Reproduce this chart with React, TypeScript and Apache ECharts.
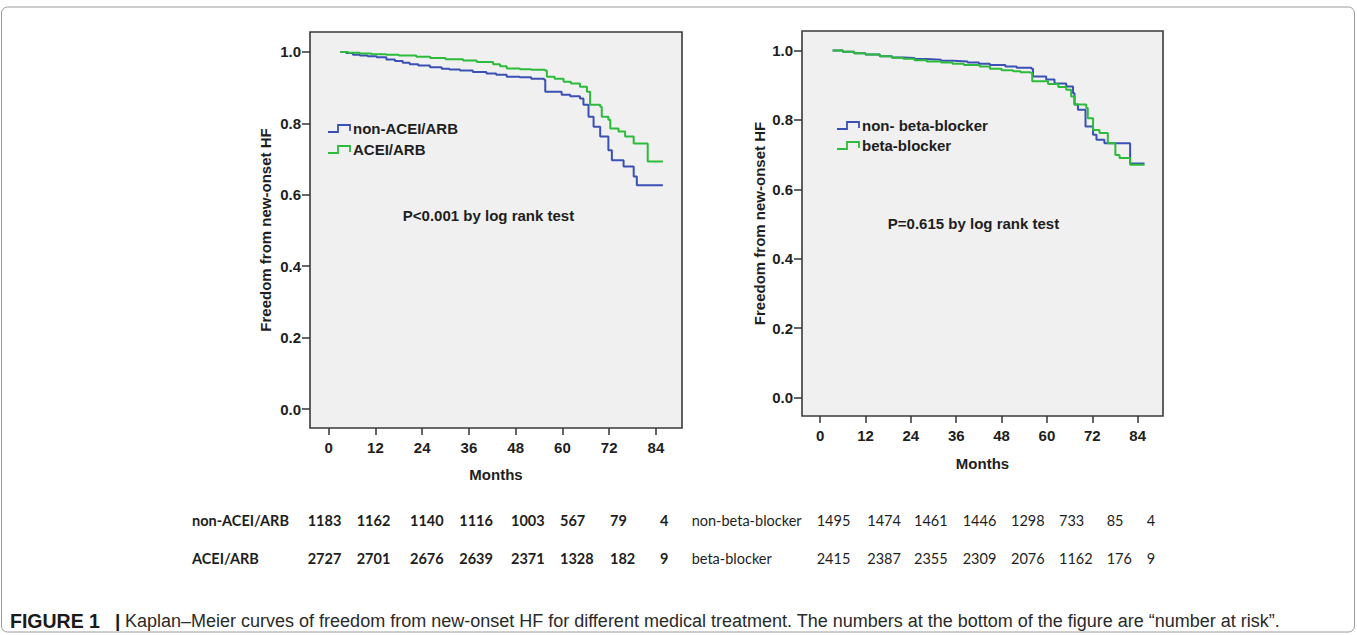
import React, { useEffect, useRef } from "react";
import * as echarts from "echarts";

// ---------- data ----------
const monthTicks = [0, 12, 24, 36, 48, 60, 72, 84];
const survTicks = [0, 0.2, 0.4, 0.6, 0.8, 1.0];

// Left panel: [month, survival]
const nonAceiCurve: [number, number][] = [
  [3, 1.0], [4.5, 0.997], [6.2, 0.992], [8, 0.99], [10, 0.988], [12.3, 0.985], [14.8, 0.979],
  [17, 0.975], [19, 0.97], [20.8, 0.966], [23, 0.962], [26, 0.957], [29, 0.953], [31, 0.951],
  [33.7, 0.948], [37, 0.944], [40.5, 0.94], [43, 0.936], [45.7, 0.931], [49, 0.929], [52, 0.925],
  [55.3, 0.922], [55.6, 0.889], [59.8, 0.88], [62, 0.876], [64.5, 0.87], [65.4, 0.852],
  [66.7, 0.819], [68, 0.791], [69.7, 0.763], [71.8, 0.725], [72.7, 0.697], [75.7, 0.679],
  [78.3, 0.651], [79.1, 0.627], [85.8, 0.627],
];
const aceiCurve: [number, number][] = [
  [3, 1.0], [5, 0.998], [8, 0.996], [11, 0.994], [14.8, 0.992], [18, 0.99], [22.5, 0.987],
  [26, 0.983], [30, 0.98], [34.5, 0.976], [38, 0.972], [42.2, 0.966], [44, 0.96], [45.7, 0.954],
  [49.1, 0.952], [52, 0.95], [55.5, 0.948], [56, 0.931], [58, 0.925], [60.3, 0.917],
  [62.2, 0.912], [64.5, 0.903], [66.3, 0.889], [67.1, 0.852], [69.7, 0.847], [70.1, 0.819],
  [71.8, 0.81], [72.3, 0.786], [74.4, 0.777], [76.1, 0.763], [78.3, 0.744], [81.9, 0.693],
  [85.8, 0.693],
];

// Right panel
const nonBetaCurve: [number, number][] = [
  [3.3, 1.0], [6, 0.996], [9, 0.992], [12, 0.988], [15.8, 0.983], [19, 0.98], [22, 0.978],
  [25, 0.975], [28.2, 0.973], [32, 0.97], [35.2, 0.968], [39, 0.965], [42, 0.962], [44.9, 0.958],
  [49, 0.954], [52, 0.95], [55.9, 0.947], [56.3, 0.925], [59.8, 0.916], [62, 0.905],
  [65.1, 0.896], [66.9, 0.877], [67.3, 0.844], [68.2, 0.829], [70.2, 0.781], [72.2, 0.757],
  [73.1, 0.743], [75.2, 0.733], [82, 0.674], [85.8, 0.674],
];
const betaCurve: [number, number][] = [
  [3.3, 1.0], [6, 0.996], [9, 0.992], [12, 0.988], [15.8, 0.983], [19, 0.979], [22, 0.976],
  [25, 0.972], [28.2, 0.968], [32, 0.965], [35, 0.962], [38, 0.958], [42.2, 0.954], [44.9, 0.947],
  [48, 0.943], [51, 0.94], [53, 0.937], [55.4, 0.935], [56.1, 0.911], [60.3, 0.903], [63, 0.895],
  [65.1, 0.887], [66.4, 0.867], [67.3, 0.844], [70.4, 0.834], [70.8, 0.805], [72.2, 0.771],
  [73.9, 0.762], [76.1, 0.733], [78.1, 0.699], [79.2, 0.69], [82, 0.671], [85.8, 0.671],
];

// Number at risk
const leftRiskGroups = ["non-ACEI/ARB", "ACEI/ARB"];
const nonAceiAtRisk = [1183, 1162, 1140, 1116, 1003, 567, 79, 4];
const aceiAtRisk = [2727, 2701, 2676, 2639, 2371, 1328, 182, 9];
const rightRiskGroups = ["non-beta-blocker", "beta-blocker"];
const nonBetaAtRisk = [1495, 1474, 1461, 1446, 1298, 733, 85, 4];
const betaAtRisk = [2415, 2387, 2355, 2309, 2076, 1162, 176, 9];

const leftLegend = ["non-ACEI/ARB", "ACEI/ARB"];
const rightLegend = ["non- beta-blocker", "beta-blocker"];
const leftPText = "P<0.001 by log rank test";
const rightPText = "P=0.615 by log rank test";
const yTitle = "Freedom from new-onset HF";
const xTitle = "Months";
const captionLabel = "FIGURE 1";
const captionBar = "|";
const captionText =
  "Kaplan\u2013Meier curves of freedom from new-onset HF for different medical treatment. The numbers at the bottom of the figure are \u201cnumber at risk\u201d.";

// ---------- styling ----------
const BLUE = "#3b50b5";
const GREEN = "#2cbb3a";
const SPSS_FONT = "Liberation Sans, Arial, sans-serif";
const TABLE_FONT = "Lato, Carlito, sans-serif";
const TXT = "#1e1e1e";

const leftRiskCols = [307.7, 356.7, 410, 459.3, 511, 560, 610, 660];
const rightRiskCols = [816.7, 867.3, 914, 962.7, 1011, 1059, 1106.7, 1146.7];

function xAxisFor(gi: number, nameGap: number) {
  return {
    type: "value",
    gridIndex: gi,
    min: -4.8,
    max: 90.7,
    name: xTitle,
    nameLocation: "middle",
    nameGap,
    nameTextStyle: { fontFamily: SPSS_FONT, fontWeight: "bold", fontSize: 15, color: TXT },
    axisLine: { show: false, onZero: false },
    axisTick: { show: true, length: 7, customValues: monthTicks, lineStyle: { color: "#333", width: 1.5 } },
    axisLabel: {
      customValues: monthTicks,
      margin: 12,
      fontFamily: SPSS_FONT,
      fontWeight: "bold",
      fontSize: 15,
      color: TXT,
    },
    splitLine: { show: false },
  };
}

function yAxisFor(gi: number, nameGap: number) {
  return {
    type: "value",
    gridIndex: gi,
    min: -0.053,
    max: 1.056,
    name: yTitle,
    nameLocation: "middle",
    nameRotate: 90,
    nameGap,
    nameTextStyle: { fontFamily: SPSS_FONT, fontWeight: "bold", fontSize: 15, color: TXT },
    axisLine: { show: false, onZero: false },
    axisTick: { show: true, length: 8, customValues: survTicks, lineStyle: { color: "#333", width: 1.5 } },
    axisLabel: {
      customValues: survTicks,
      margin: 9,
      fontFamily: SPSS_FONT,
      fontWeight: "bold",
      fontSize: 15,
      color: TXT,
      formatter: (v: number) => v.toFixed(1),
    },
    splitLine: { show: false },
  };
}

function kmSeries(name: string, data: [number, number][], color: string, gi: number) {
  return {
    name,
    type: "line",
    xAxisIndex: gi,
    yAxisIndex: gi,
    step: "end",
    showSymbol: false,
    symbol: "none",
    data,
    lineStyle: { color, width: 2 },
    itemStyle: { color },
    emphasis: { disabled: true },
  };
}

function legendItem(x: number, y: number, color: string, label: string) {
  return {
    type: "group",
    x,
    y,
    children: [
      {
        type: "polyline",
        shape: { points: [[0, 5], [10, 5], [10, -2], [22, -2], [22, 4]] },
        style: { stroke: color, lineWidth: 1.8, fill: "none" },
      },
      {
        type: "text",
        x: 25,
        y: 1,
        style: {
          text: label,
          fill: TXT,
          font: `bold 15px ${SPSS_FONT}`,
          textVerticalAlign: "middle",
        },
      },
    ],
  };
}

function riskRows(
  groups: string[],
  rows: number[][],
  labelX: number,
  cols: number[],
  ys: number[],
  weight: string
) {
  const els: any[] = [];
  rows.forEach((row, ri) => {
    els.push({
      type: "text",
      x: labelX,
      y: ys[ri],
      style: { text: groups[ri], fill: TXT, font: `${weight} 14.5px ${TABLE_FONT}`, textVerticalAlign: "middle" },
    });
    row.forEach((v, ci) => {
      els.push({
        type: "text",
        x: cols[ci],
        y: ys[ri],
        style: { text: String(v), fill: TXT, font: `${weight} 14.5px ${TABLE_FONT}`, textVerticalAlign: "middle" },
      });
    });
  });
  return els;
}

export default function App() {
  const ref = useRef<HTMLDivElement>(null);
  useEffect(() => {
    if (!ref.current) return;
    const chart = echarts.init(ref.current, undefined, { renderer: "svg" });
    const option: any = {
      animation: false,
      backgroundColor: "#ffffff",
      grid: [
        {
          left: 310, top: 32, width: 372, height: 396,
          show: true, backgroundColor: "#f0f0f0", borderColor: "#3a3a3a", borderWidth: 1.6,
        },
        {
          left: 802, top: 31, width: 361, height: 385,
          show: true, backgroundColor: "#f0f0f0", borderColor: "#3a3a3a", borderWidth: 1.6,
        },
      ],
      xAxis: [xAxisFor(0, 39), xAxisFor(1, 40)],
      yAxis: [yAxisFor(0, 37), yAxisFor(1, 35)],
      series: [
        kmSeries(leftLegend[0], nonAceiCurve, BLUE, 0),
        kmSeries(leftLegend[1], aceiCurve, GREEN, 0),
        kmSeries(rightLegend[0], nonBetaCurve, BLUE, 1),
        kmSeries(rightLegend[1], betaCurve, GREEN, 1),
      ],
      graphic: [
        {
          type: "rect",
          shape: { x: 1.5, y: 7, width: 1353, height: 625, r: 6 },
          style: { fill: "none", stroke: "#9a9a9a", lineWidth: 1 },
          silent: true,
        },
        legendItem(328, 127, BLUE, leftLegend[0]),
        legendItem(328, 148, GREEN, leftLegend[1]),
        legendItem(837, 124, BLUE, rightLegend[0]),
        legendItem(837, 144, GREEN, rightLegend[1]),
        {
          type: "text",
          x: 488.5,
          y: 215,
          style: { text: leftPText, fill: TXT, font: `bold 15px ${SPSS_FONT}`, textAlign: "center", textVerticalAlign: "middle" },
        },
        {
          type: "text",
          x: 973.5,
          y: 223,
          style: { text: rightPText, fill: TXT, font: `bold 15px ${SPSS_FONT}`, textAlign: "center", textVerticalAlign: "middle" },
        },
        ...riskRows(leftRiskGroups, [nonAceiAtRisk, aceiAtRisk], 192, leftRiskCols, [520, 558], "bold"),
        ...riskRows(rightRiskGroups, [nonBetaAtRisk, betaAtRisk], 691.7, rightRiskCols, [520, 558], "normal"),
        {
          type: "text",
          x: 10,
          y: 621,
          style: {
            text: captionLabel,
            font: `bold 19.5px ${SPSS_FONT}`,
            fill: "#1a1a1a",
            textVerticalAlign: "middle",
          },
        },
        {
          type: "text",
          x: 115,
          y: 620,
          style: {
            text: captionBar,
            font: `bold 19px ${SPSS_FONT}`,
            fill: "#1a1a1a",
            textVerticalAlign: "middle",
          },
        },
        {
          type: "text",
          x: 125,
          y: 621,
          style: {
            text: captionText,
            font: `18px ${SPSS_FONT}`,
            fill: "#2a2a2a",
            textVerticalAlign: "middle",
          },
        },
      ],
    };
    chart.setOption(option);
    return () => chart.dispose();
  }, []);
  return (
    <div
      ref={ref}
      style={{ position: "fixed", left: 0, top: 0, width: 1357, height: 635, background: "#fff" }}
    />
  );
}
